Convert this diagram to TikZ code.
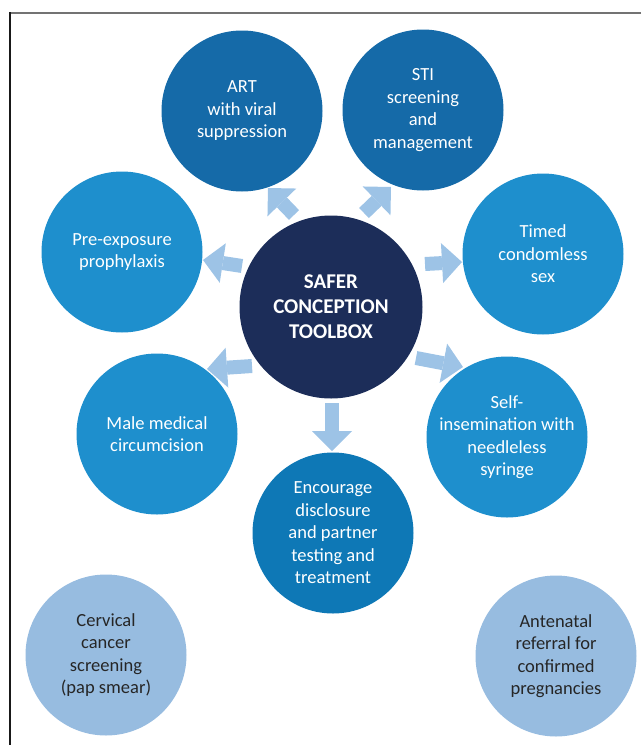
\documentclass[tikz,border=0pt]{standalone}
\usepackage{fontspec}
\setmainfont{Carlito}
\usetikzlibrary{arrows.meta}
\definecolor{cdark}{HTML}{1C2D59}
\definecolor{ctop}{HTML}{156AA8}
\definecolor{cmid}{HTML}{1E8FCD}
\definecolor{cenc}{HTML}{0E78B6}
\definecolor{clight}{HTML}{97BCE0}
\definecolor{carrow}{HTML}{9DC3E6}
\definecolor{ctxt}{HTML}{262626}
\begin{document}
\begin{tikzpicture}[x=1pt,y=-1pt,
  bub/.style={circle, minimum size=161pt, inner sep=0pt, align=center,
    font=\fontsize{18.5}{22.5}\selectfont, text=white},
  lightbub/.style={bub, fill=clight, text=ctxt},
  hub/.style={circle, minimum size=183pt, inner sep=0pt, align=center, fill=cdark,
    font=\bfseries\fontsize{21}{25}\selectfont, text=white},
  blockarrow/.style={draw=carrow, line width=14pt,
    -{Triangle[length=20pt,width=40pt,line width=0pt]}},
  topline/.style={draw=black!55, line width=2pt},
  leftline/.style={draw=black!90, line width=1.3pt}
]
\useasboundingbox (0,0) rectangle (641,745);
\draw[topline] (641,13) -- (9.35,13);
\draw[leftline] (10,12) -- (10,745);

\node[hub] (c) at (331,307) {SAFER\\CONCEPTION\\TOOLBOX};
\node[bub, fill=ctop] (art) at (242,111) {ART\\with viral\\suppression};
\node[bub, fill=ctop] (sti) at (423,110) {STI\\screening\\and\\management};
\node[bub, fill=cmid] (prep) at (122,252) {Pre-exposure\\prophylaxis};
\node[bub, fill=cmid] (timed) at (543,254) {Timed\\condomless\\sex};
\node[bub, fill=cmid] (male) at (157,434) {Male medical\\circumcision};
\node[bub, fill=cmid] (self) at (507,437) {Self-\\insemination with\\needleless\\syringe};
\node[bub, fill=cenc] (enc) at (333,533) {Encourage\\disclosure\\and partner\\testing and\\treatment};
\node[lightbub] (cerv) at (106,655) {Cervical\\cancer\\screening\\(pap smear)};
\node[lightbub] (ante) at (556,656) {Antenatal\\referral for\\confirmed\\pregnancies};

\coordinate (t1) at (294,215); \coordinate (h1) at (268,188);
\coordinate (t2) at (364,213); \coordinate (h2) at (391,187);
\coordinate (t3) at (242,266); \coordinate (h3) at (203,260);
\coordinate (t4) at (425,264); \coordinate (h4) at (462,262);
\coordinate (t5) at (252,366); \coordinate (h5) at (207,369);
\coordinate (t6) at (416,358); \coordinate (h6) at (463,367);
\coordinate (t7) at (332,403); \coordinate (h7) at (332,451);

\draw[blockarrow] (t1) -- (h1);
\draw[blockarrow] (t2) -- (h2);
\draw[blockarrow] (t3) -- (h3);
\draw[blockarrow] (t4) -- (h4);
\draw[blockarrow] (t5) -- (h5);
\draw[blockarrow] (t6) -- (h6);
\draw[blockarrow] (t7) -- (h7);
\end{tikzpicture}
\end{document}
